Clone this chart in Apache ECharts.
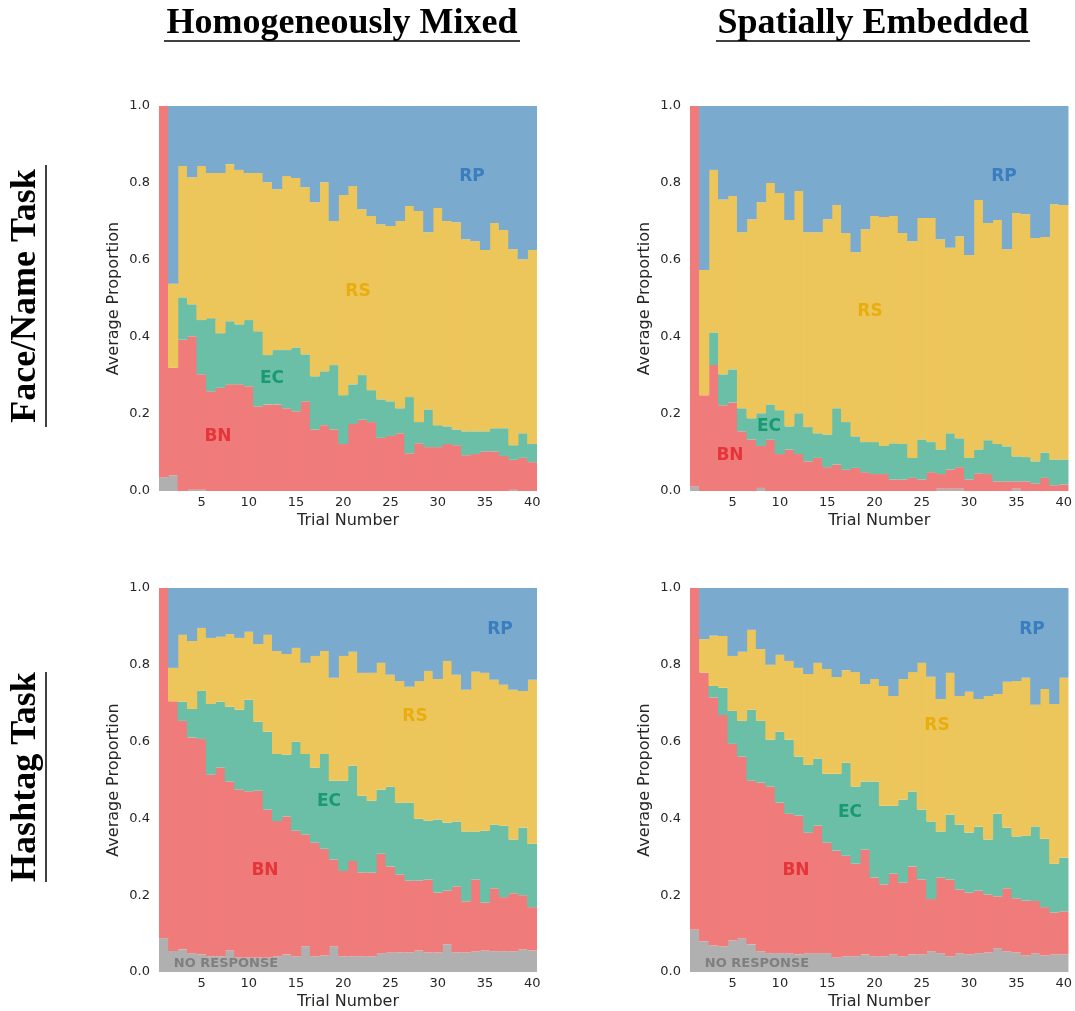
<!DOCTYPE html>
<html>
<head>
<meta charset="utf-8">
<script src="https://cdn.jsdelivr.net/npm/echarts@6/dist/echarts.min.js"></script>
<style>
html,body{margin:0;padding:0;background:#fff;}
#chart{width:1075px;height:1011px;}
</style>
</head>
<body>
<div id="chart"></div>
<script>
var trials = ['1','2','3','4','5','6','7','8','9','10','11','12','13','14','15','16','17','18','19','20',
              '21','22','23','24','25','26','27','28','29','30','31','32','33','34','35','36','37','38','39','40'];

// cumulative proportion at the top of each band (NR, NR+BN, ... )
// Face/Name task - homogeneously mixed
var faceHomNR = [0.036,0.041,0,0.003,0.003,0,0,0,0,0, 0,0,0,0,0,0,0,0,0,0, 0,0,0,0,0,0,0,0,0,0, 0,0,0,0,0,0,0,0.003,0,0];
var faceHomBN = [1.0,0.32,0.393,0.402,0.303,0.259,0.268,0.277,0.277,0.272, 0.22,0.225,0.225,0.215,0.207,0.233,0.16,0.171,0.16,0.122, 0.174,0.185,0.179,0.138,0.143,0.15,0.098,0.124,0.114,0.114, 0.122,0.119,0.093,0.096,0.103,0.103,0.091,0.081,0.086,0.075];
var faceHomEC = [1.0,0.32,0.503,0.485,0.444,0.449,0.41,0.441,0.433,0.444, 0.415,0.353,0.366,0.366,0.373,0.355,0.298,0.311,0.327,0.249, 0.277,0.301,0.262,0.238,0.233,0.215,0.244,0.179,0.212,0.171, 0.168,0.16,0.155,0.155,0.155,0.163,0.163,0.119,0.15,0.122];
var faceHomRS = [1.0,0.538,0.844,0.815,0.844,0.826,0.826,0.849,0.834,0.826, 0.826,0.802,0.784,0.818,0.813,0.789,0.75,0.802,0.701,0.769, 0.792,0.732,0.714,0.693,0.688,0.701,0.74,0.727,0.672,0.735, 0.701,0.698,0.654,0.649,0.626,0.696,0.678,0.628,0.602,0.626];

// Face/Name task - spatially embedded
var faceSpaNR = [0.012,0,0,0,0,0,0,0.008,0,0, 0,0,0,0,0,0,0,0,0,0, 0,0,0,0,0,0,0.006,0.006,0.006,0, 0,0,0,0,0.006,0,0,0,0,0];
var faceSpaBN = [1.0,0.249,0.327,0.223,0.23,0.155,0.134,0.117,0.133,0.096, 0.108,0.096,0.077,0.086,0.062,0.069,0.055,0.06,0.049,0.044, 0.044,0.03,0.03,0.034,0.03,0.049,0.044,0.056,0.062,0.03, 0.046,0.044,0.025,0.025,0.025,0.025,0.02,0.034,0.015,0.017];
var faceSpaEC = [1.0,0.249,0.412,0.303,0.316,0.215,0.189,0.202,0.225,0.21, 0.168,0.202,0.166,0.15,0.147,0.215,0.179,0.142,0.127,0.127, 0.117,0.124,0.122,0.086,0.134,0.127,0.108,0.15,0.137,0.086, 0.108,0.132,0.122,0.116,0.09,0.088,0.077,0.1,0.082,0.082];
var faceSpaRS = [1.0,0.574,0.834,0.757,0.766,0.672,0.706,0.75,0.8,0.774, 0.704,0.779,0.672,0.672,0.706,0.743,0.67,0.62,0.68,0.714, 0.712,0.714,0.67,0.649,0.709,0.709,0.654,0.632,0.662,0.613, 0.756,0.696,0.704,0.628,0.722,0.719,0.657,0.66,0.745,0.743];

// Hashtag task - homogeneously mixed
var hashHomNR = [0.088,0.055,0.059,0.049,0.046,0.041,0.041,0.056,0.038,0.038, 0.038,0.038,0.041,0.046,0.041,0.067,0.041,0.043,0.067,0.041, 0.041,0.041,0.041,0.049,0.051,0.051,0.051,0.056,0.051,0.051, 0.072,0.051,0.051,0.054,0.056,0.054,0.054,0.054,0.059,0.056];
var hashHomBN = [1.0,0.705,0.654,0.611,0.607,0.514,0.532,0.496,0.475,0.471, 0.472,0.423,0.393,0.405,0.368,0.358,0.337,0.321,0.293,0.263, 0.289,0.259,0.259,0.308,0.275,0.254,0.238,0.238,0.241,0.207, 0.212,0.223,0.184,0.241,0.181,0.218,0.195,0.205,0.2,0.169];
var hashHomEC = [1.0,0.705,0.704,0.685,0.732,0.698,0.704,0.691,0.683,0.709, 0.652,0.626,0.568,0.566,0.6,0.568,0.532,0.568,0.498,0.498, 0.537,0.459,0.446,0.475,0.483,0.441,0.441,0.399,0.394,0.397, 0.389,0.392,0.366,0.366,0.368,0.384,0.381,0.345,0.376,0.334];
var hashHomRS = [1.0,0.792,0.878,0.862,0.896,0.87,0.873,0.88,0.87,0.886, 0.854,0.878,0.836,0.828,0.844,0.805,0.823,0.836,0.766,0.823, 0.834,0.779,0.779,0.805,0.774,0.758,0.743,0.758,0.784,0.763, 0.81,0.774,0.735,0.782,0.779,0.761,0.748,0.735,0.732,0.761];

// Hashtag task - spatially embedded
var hashSpaNR = [0.111,0.08,0.069,0.067,0.082,0.088,0.072,0.054,0.049,0.049, 0.049,0.046,0.049,0.049,0.049,0.038,0.041,0.041,0.046,0.041, 0.041,0.046,0.041,0.046,0.046,0.054,0.049,0.041,0.049,0.046, 0.049,0.051,0.062,0.054,0.051,0.043,0.049,0.043,0.046,0.046];
var hashSpaBN = [1.0,0.78,0.715,0.669,0.594,0.561,0.498,0.493,0.483,0.441, 0.412,0.407,0.363,0.381,0.337,0.316,0.303,0.282,0.319,0.246, 0.228,0.256,0.233,0.275,0.241,0.19,0.246,0.241,0.215,0.207, 0.212,0.202,0.197,0.218,0.192,0.186,0.185,0.169,0.155,0.158];
var hashSpaEC = [1.0,0.78,0.745,0.74,0.68,0.654,0.683,0.654,0.605,0.626, 0.605,0.561,0.54,0.556,0.516,0.516,0.545,0.483,0.496,0.496, 0.433,0.433,0.449,0.47,0.423,0.392,0.366,0.41,0.384,0.363, 0.378,0.345,0.412,0.376,0.353,0.355,0.379,0.347,0.282,0.298];
var hashSpaRS = [1.0,0.867,0.876,0.875,0.823,0.834,0.891,0.841,0.8,0.826, 0.81,0.792,0.776,0.805,0.789,0.768,0.786,0.781,0.75,0.763, 0.745,0.719,0.763,0.781,0.805,0.769,0.711,0.779,0.719,0.73, 0.711,0.719,0.724,0.756,0.758,0.766,0.696,0.737,0.698,0.766];

var colors = {NR:'#B0B0B0', BN:'#F07B7B', EC:'#6ABFA6', RS:'#EDC65B', RP:'#7BAACF'};
var textColor = '#262626';

var panels = [
    {grid:{left:159, top:106, width:378, height:385}, d:[faceHomNR, faceHomBN, faceHomEC, faceHomRS]},
    {grid:{left:690, top:106, width:379, height:385}, d:[faceSpaNR, faceSpaBN, faceSpaEC, faceSpaRS]},
    {grid:{left:159, top:588, width:378, height:385}, d:[hashHomNR, hashHomBN, hashHomEC, hashHomRS]},
    {grid:{left:690, top:588, width:379, height:385}, d:[hashSpaNR, hashSpaBN, hashSpaEC, hashSpaRS]}
];

// turn the cumulative tops into band heights for the stack
function bands(nr, bn, ec, rs) {
    var tops = [nr, bn, ec, rs];
    var keys = ['NR','BN','EC','RS','RP'];
    var out = {};
    keys.forEach(function(k){ out[k] = []; });
    for (var i = 0; i < nr.length; i++) {
        var prev = 0;
        for (var j = 0; j < 5; j++) {
            var top = j < 4 ? tops[j][i] : 1;
            var v = +(top - prev).toFixed(4);
            out[keys[j]].push(v > 0.0005 ? v : null);
            prev = top;
        }
    }
    return out;
}

var grids = [], xAxes = [], yAxes = [], series = [];
panels.forEach(function(p, idx){
    grids.push(p.grid);
    xAxes.push({
        gridIndex: idx, type: 'category', data: trials,
        axisLine: {show:false}, axisTick: {show:false}, splitLine: {show:false},
        axisLabel: {
            interval: function(i){ return (i + 1) % 5 === 0; },
            color: textColor, fontSize: 13, fontFamily: 'DejaVu Sans', margin: 5
        },
        name: 'Trial Number', nameLocation: 'middle', nameGap: 22,
        nameTextStyle: {color: textColor, fontSize: 16, fontFamily: 'DejaVu Sans'}
    });
    yAxes.push({
        gridIndex: idx, type: 'value', min: 0, max: 1, interval: 0.2,
        axisLine: {show:false}, axisTick: {show:false}, splitLine: {show:false},
        axisLabel: {
            formatter: function(v){ return v.toFixed(1); },
            color: textColor, fontSize: 13, fontFamily: 'DejaVu Sans', margin: 9
        },
        name: 'Average Proportion', nameLocation: 'middle', nameGap: 37,
        nameTextStyle: {color: textColor, fontSize: 16, fontFamily: 'DejaVu Sans'}
    });
    var b = bands(p.d[0], p.d[1], p.d[2], p.d[3]);
    ['NR','BN','EC','RS','RP'].forEach(function(k){
        series.push({
            name: k, type: 'bar', xAxisIndex: idx, yAxisIndex: idx,
            stack: 'panel' + idx, data: b[k],
            // slightly negative gap so neighbouring bars overlap and leave no seams
            barCategoryGap: '-8%', silent: true,
            itemStyle: {color: colors[k]}
        });
    });
});

var serif = '"Liberation Serif", "DejaVu Serif", serif';
function label(txt, x, y, color, size) {
    return {type:'text', x:x, y:y, z:100,
        style:{text:txt, fill:color, align:'center', verticalAlign:'middle',
               font:'bold ' + (size || 17) + 'px "DejaVu Sans"'}};
}
var graphics = [
    {type:'text', x:342, y:24, style:{text:'Homogeneously Mixed', fill:'#000', align:'center', verticalAlign:'middle', font:'bold 36px ' + serif}},
    {type:'line', shape:{x1:164, y1:41, x2:520, y2:41}, style:{stroke:'#000', lineWidth:1.5}},
    {type:'text', x:873, y:24, style:{text:'Spatially Embedded', fill:'#000', align:'center', verticalAlign:'middle', font:'bold 36px ' + serif}},
    {type:'line', shape:{x1:716, y1:41, x2:1030, y2:41}, style:{stroke:'#000', lineWidth:1.5}},
    {type:'text', x:26, y:296, rotation:Math.PI/2, style:{text:'Face/Name Task', fill:'#000', align:'center', verticalAlign:'middle', font:'bold 36px ' + serif}},
    {type:'line', shape:{x1:46, y1:165, x2:46, y2:427}, style:{stroke:'#000', lineWidth:1.5}},
    {type:'text', x:26, y:777, rotation:Math.PI/2, style:{text:'Hashtag Task', fill:'#000', align:'center', verticalAlign:'middle', font:'bold 36px ' + serif}},
    {type:'line', shape:{x1:46, y1:672, x2:46, y2:882}, style:{stroke:'#000', lineWidth:1.5}},

    label('RP', 472, 177, '#3A7EBF'), label('RS', 358, 292, '#E8AD0E'),
    label('EC', 272, 379, '#1A9A70'), label('BN', 218, 437, '#E5343A'),
    label('RP', 1004, 177, '#3A7EBF'), label('RS', 870, 312, '#E8AD0E'),
    label('EC', 769, 427, '#1A9A70'), label('BN', 730, 456, '#E5343A'),
    label('RP', 500, 630, '#3A7EBF'), label('RS', 415, 717, '#E8AD0E'),
    label('EC', 329, 802, '#1A9A70'), label('BN', 265, 871, '#E5343A'),
    label('NO RESPONSE', 226, 964, '#7F7F7F', 13),
    label('RP', 1032, 630, '#3A7EBF'), label('RS', 937, 726, '#E8AD0E'),
    label('EC', 850, 813, '#1A9A70'), label('BN', 796, 871, '#E5343A'),
    label('NO RESPONSE', 757, 964, '#7F7F7F', 13)
];

var myChart = echarts.init(document.getElementById('chart'), null, {renderer:'canvas'});
myChart.setOption({
    animation: false,
    backgroundColor: '#fff',
    grid: grids,
    xAxis: xAxes,
    yAxis: yAxes,
    series: series,
    graphic: graphics
});
</script>
</body>
</html>
